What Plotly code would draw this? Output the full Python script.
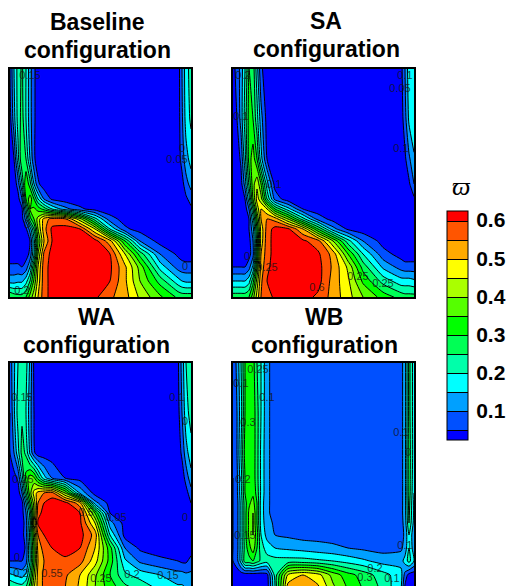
import plotly.graph_objects as go

# shared sample positions inside every panel
x_nodes = [0,4,8,12,16,20,24,28,34,42,55,70,85,100,115,130,150,168,172,176,181]
y_nodes = [0,50,90,115,130,140,150,160,172,185,198,212,228]
levels = dict(start=0.05, end=0.6, size=0.05)
band_colors = ["#0000ff","#0050ff","#00a0ff","#00ffff","#00ffaa","#00ff55","#00ff00",
               "#55ff00","#aaff00","#ffff00","#ffaa00","#ff5500","#ff0000"]
tick_values = [0.1,0.2,0.3,0.4,0.5,0.6]

# field values in hundredths
baseline = [
 [5,15,22,26,20,12,6,2,2,2,2,2,2,2,2,2,2,2,10,18,22],
 [3,13,22,27,20,12,6,2,2,2,2,2,2,2,2,2,2,2,9,17,21],
 [2,5,18,30,25,15,6,2,2,2,2,2,2,2,2,2,2,2,7,13,17],
 [2,2,7,20,35,27,15,6,2,2,2,2,2,2,2,2,2,2,3,8,12],
 [2,2,3,10,30,38,30,20,10,4,2,2,2,2,2,2,2,2,2,4,7],
 [2,2,2,4,20,35,36,33,28,20,12,6,3,2,2,2,2,2,2,2,4],
 [2,2,2,3,12,28,35,42,52,57,56,42,22,7,3,2,2,2,2,2,2],
 [2,2,2,2,4,12,25,40,53,61,62,60,45,20,6,3,2,2,2,2,2],
 [2,2,2,2,2,5,18,35,50,60,63,63,62,52,30,10,3,2,2,2,2],
 [2,2,2,2,3,6,20,40,56,62,63,63,63,60,45,28,10,4,3,2,2],
 [6,6,6,5,7,15,30,45,58,62,63,63,63,61,51,38,18,8,7,7,7],
 [13,13,14,14,18,25,36,47,58,62,63,63,63,60,51,40,28,17,15,14,14],
 [30,28,27,27,30,37,43,50,58,62,63,63,61,56,52,44,36,29,28,28,28],
]
sa = [
 [3,7,12,20,30,28,17,6,2,2,2,2,2,2,2,2,2,3,10,18,20],
 [2,5,12,22,32,30,22,12,3,2,2,2,2,2,2,2,2,2,8,16,20],
 [2,2,6,18,32,38,30,17,5,2,2,2,2,2,2,2,2,2,4,9,14],
 [2,2,3,12,26,38,44,35,17,3,2,2,2,2,2,2,2,2,2,4,10],
 [2,2,2,5,18,35,47,42,25,8,2,2,2,2,2,2,2,2,2,2,4],
 [2,2,2,2,10,25,42,50,45,30,17,5,2,2,2,2,2,2,2,2,2],
 [2,2,2,2,5,18,35,50,55,53,40,22,8,3,2,2,2,2,2,2,2],
 [2,2,2,2,5,13,30,47,57,62,61,50,30,12,4,2,2,2,2,2,2],
 [2,2,2,2,3,10,27,47,58,62,63,61,57,40,22,10,3,2,2,2,2],
 [2,2,2,2,3,8,30,50,58,62,63,63,61,53,35,20,7,3,2,2,2],
 [5,5,5,5,8,16,35,52,59,62,63,63,62,54,44,28,14,8,7,7,7],
 [15,15,15,15,18,28,42,54,60,62,63,63,62,53,46,34,23,17,17,17,16],
 [28,28,28,28,30,38,47,55,58,61,62,62,59,53,47,40,33,28,27,27,27],
]
wa = [
 [7,14,20,24,22,14,4,2,2,2,2,2,2,2,2,2,2,4,12,20,24],
 [5,14,22,24,20,12,5,2,2,2,2,2,2,2,2,2,2,3,10,18,22],
 [5,10,18,27,24,14,6,2,2,2,2,2,2,2,2,2,2,2,6,13,18],
 [2,3,6,18,32,38,36,28,17,10,5,3,2,2,2,2,2,2,2,7,13],
 [2,2,2,10,25,38,47,52,55,57,40,14,3,2,2,2,2,2,2,3,8],
 [2,2,2,3,15,30,42,55,60,63,62,52,12,3,2,2,2,2,2,2,5],
 [2,2,2,3,10,22,40,58,62,63,63,60,35,5,2,2,2,2,2,2,3],
 [2,2,2,2,8,20,45,61,62,63,63,61,45,12,3,2,2,2,2,2,2],
 [2,2,2,3,8,22,38,55,60,62,63,62,53,20,3,2,2,2,2,2,2],
 [2,2,2,2,6,20,35,52,57,60,62,60,50,32,10,4,3,3,2,2,2],
 [5,5,5,5,8,20,35,50,55,58,59,57,47,33,16,9,6,5,4,4,7],
 [16,15,14,13,16,26,40,52,56,57,56,50,41,30,21,18,15,12,12,11,11],
 [28,26,25,25,28,34,45,52,56,57,55,49,40,33,28,25,20,17,17,16,16],
]
wb = [
 [7,11,20,30,33,32,25,20,11,8,7,7,7,7,7,7,7,8,13,27,17],
 [6,10,18,30,33,33,27,20,11,8,7,7,7,7,7,7,7,8,13,27,17],
 [6,10,20,32,34,33,27,19,11,8,7,7,7,7,7,7,7,8,13,28,17],
 [5,9,18,30,33,33,27,19,11,8,7,7,7,7,7,7,7,8,13,28,16],
 [5,9,18,30,34,34,28,19,11,8,7,7,7,7,7,7,7,8,13,28,15],
 [5,8,17,28,34,37,30,18,11,8,7,7,7,7,7,7,7,8,13,27,14],
 [5,8,17,28,36,40,30,18,11,8,7,7,7,7,7,7,7,8,13,26,14],
 [5,8,17,28,36,40,30,18,12,9,8,8,7,7,7,7,7,8,12,25,13],
 [5,8,17,28,36,40,32,20,13,10,9,8,8,8,8,8,7,8,11,20,11],
 [5,8,17,27,33,38,30,22,18,15,14,13,12,11,10,9,8,9,12,20,12],
 [5,8,17,28,28,30,27,24,22,22,22,22,21,20,18,16,13,13,17,22,15],
 [2,2,2,2,2,2,2,2,3,22,46,50,47,38,32,28,22,17,8,3,2],
 [2,2,2,2,2,2,2,2,2,20,54,56,52,42,35,30,24,15,3,2,2],
]

title_lines = [("Baseline",97,22),("configuration",97,50),("SA",326,21),("configuration",326,49),
               ("WA",96,317),("configuration",96,345),("WB",324,317),("configuration",324,345)]
panels = [baseline, sa, wa, wb]
panel_boxes = [(10,191,69,297),(233,414,69,297),(10,191,363,586),(233,414,363,586)]
y_ranges = [[228,0],[228,0],[223,0],[223,0]]

labels = [
 (["0.15","0.05","0","0","0","0.2"],[20,167,172,17,175,12],[7,91,80,156,198,222]),
 (["0.2","0.1","0.05","0.1","0.1","0.1","0","0.25","0.6","0.25","0.25"],
  [10,8,167,172,168,41,14,34,84,125,150],[7,48,20,7,80,116,188,199,219,208,215]),
 (["0.15","0.1","0","0.25","0.5","0.05","0","0","0.2","0.55","0.2","0.15","0.25"],
  [12,167,175,13,76,106,175,7,11,42,122,158,91],[35,35,59,117,150,155,155,195,211,211,212,213,216]),
 (["0.25","0.1","0.1","0.3","0.1","0","0.2","0.15","0.1","0.2","0.3","0.1"],
  [25,34,8,15,168,175,10,12,172,142,132,159],[7,35,21,60,70,90,117,173,183,206,215,216]),
]

W, H = 506, 586
px = lambda v: v/W
py = lambda v: 1-v/H
fig = go.Figure()
colorscale = [[i/(len(band_colors)-1), c] for i, c in enumerate(band_colors)]

for i, (z, box) in enumerate(zip(panels, panel_boxes)):
    n = "" if i == 0 else str(i+1)
    fig.add_trace(go.Contour(
        x=x_nodes, y=y_nodes, z=[[v/100 for v in row] for row in z],
        xaxis="x"+n, yaxis="y"+n,
        autocontour=False, contours=dict(coloring="fill", showlines=True, **levels),
        line=dict(color="black", width=1, smoothing=0.6),
        colorscale=colorscale, showscale=(i == 0),
        colorbar=dict(x=px(447), xanchor="left", xpad=0, ypad=0,
                      y=py(439.6), yanchor="bottom", len=229/H, lenmode="fraction",
                      thickness=21, thicknessmode="pixels",
                      outlinecolor="black", outlinewidth=1, borderwidth=0,
                      tickmode="array", tickvals=tick_values, ticks="outside", ticklen=4,
                      tickcolor="rgba(0,0,0,0)", tickformat=".1f",
                      tickfont=dict(family="Liberation Sans", size=21, color="black", weight="bold")),
        hoverinfo="skip"))
    txt, tx, ty = labels[i]
    fig.add_trace(go.Scatter(x=tx, y=ty, text=txt, mode="text", xaxis="x"+n, yaxis="y"+n,
                             textfont=dict(family="Liberation Sans", size=11, color="rgba(20,20,20,0.8)"),
                             showlegend=False, hoverinfo="skip", cliponaxis=True))
    axis = dict(showgrid=False, zeroline=False, showticklabels=False, ticks="",
                showline=True, linecolor="black", linewidth=2, mirror=True)
    fig.layout["xaxis"+n] = dict(domain=[px(box[0]), px(box[1])], range=[0,181], anchor="y"+n, **axis)
    fig.layout["yaxis"+n] = dict(domain=[py(box[3]), py(box[2])], range=y_ranges[i], anchor="x"+n, **axis)

for t, cx, cy in title_lines:
    fig.add_annotation(text=t, xref="paper", yref="paper", x=px(cx), y=py(cy), showarrow=False,
                       font=dict(family="Liberation Sans", size=23, color="black", weight="bold"),
                       xanchor="center", yanchor="middle")
fig.add_annotation(text="<i>ϖ</i>", xref="paper", yref="paper", x=px(461), y=py(186), showarrow=False,
                   font=dict(family="Liberation Serif", size=26, color="black"),
                   xanchor="center", yanchor="middle")

fig.update_layout(width=W, height=H, autosize=False, showlegend=False,
                  margin=dict(l=0, r=0, t=0, b=0, pad=0, autoexpand=False),
                  paper_bgcolor="white", plot_bgcolor="white")
fig.write_html("out.html", config={"displayModeBar": False},
               post_script="document.body.style.margin='0';")
